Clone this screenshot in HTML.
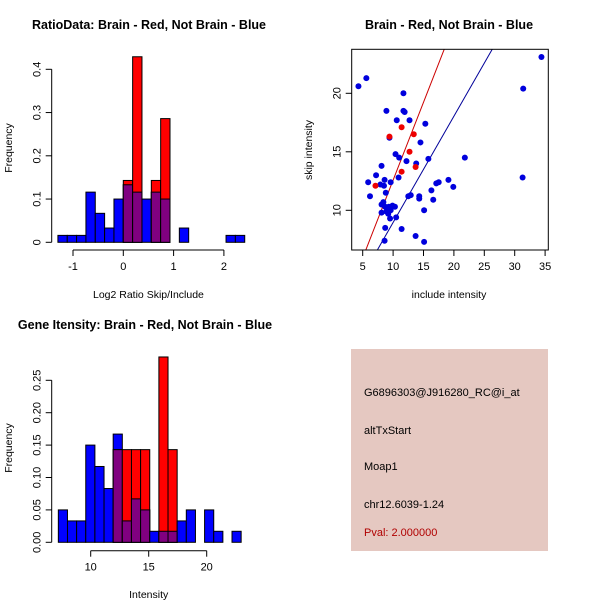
<!DOCTYPE html>
<html><head><meta charset="utf-8">
<style>
body{margin:0;background:#fff;}
svg{display:block;font-family:"Liberation Sans",sans-serif;}
</style></head>
<body>
<svg id="c" width="600" height="600" xmlns="http://www.w3.org/2000/svg">
<rect width="600" height="600" fill="#fff"/>
<text x="149" y="29" font-size="12.5" font-weight="bold" text-anchor="middle">RatioData: Brain - Red, Not Brain - Blue</text>
<text x="449" y="29" font-size="12.5" font-weight="bold" text-anchor="middle">Brain - Red, Not Brain - Blue</text>
<text x="145" y="329" font-size="12.5" font-weight="bold" text-anchor="middle">Gene Itensity: Brain - Red, Not Brain - Blue</text>
<g id="p1"></g>
<g id="p2"></g>
<g id="p3"></g>
<g>
<rect x="351" y="349" width="197" height="202" fill="#e5c8c1"/>
<text x="364" y="396" font-size="11">G6896303@J916280_RC@i_at</text>
<text x="364" y="434" font-size="11">altTxStart</text>
<text x="364" y="470" font-size="11">Moap1</text>
<text x="364" y="508" font-size="11">chr12.6039-1.24</text>
<text x="364" y="536" font-size="11" fill="#b00000">Pval: 2.000000</text>
</g>
</svg>
<script>
// Ratio histogram data
const ratioStart = -1.3, ratioWidth = 0.1857;
const ratioBlue = [0.016,0.016,0.016,0.116,0.067,0.033,0.1,0.133,0.116,0.1,0.116,0.1,0,0.033,0,0,0,0,0.016,0.016];
const ratioRed  = [0,0,0,0,0,0,0,0.143,0.429,0,0.143,0.286,0,0,0,0,0,0,0,0];
const ratioXTicks = [-1,0,1,2];
const ratioYTicks = [0,0.1,0.2,0.3,0.4];
// Intensity histogram data
const intStart = 7.21, intWidth = 0.788;
const intBlue = [0.05,0.033,0.033,0.15,0.117,0.083,0.167,0.033,0.067,0.05,0.017,0.017,0.017,0.033,0.05,0,0.05,0.017,0,0.017];
const intRed  = [0,0,0,0,0,0,0.143,0.143,0.143,0.143,0,0.286,0.143,0,0,0,0,0,0,0];
const intXTicks = [10,15,20];
const intYTicks = [0,0.05,0.10,0.15,0.20,0.25];
const intYLabels = ["0.00","0.05","0.10","0.15","0.20","0.25"];
// Scatter data
const blueX = [4.3,5.6,11.7,34.4,31.4,31.3,8.9,11.7,11.9,10.6,12.7,15.3,9.4,14.5,10.4,11.0,12.2,13.8,15.8,21.8,8.1,7.2,5.9,6.2,8.6,7.9,8.5,9.6,10.9,19.1,19.9,16.3,17.1,17.5,16.6,12.5,12.9,14.3,14.3,8.8,8.1,8.4,8.7,9.3,9.9,10.3,8.9,9.6,9.2,8.1,10.5,9.5,15.1,8.7,11.4,8.6,13.7,15.1];
const blueY = [20.6,21.3,20.0,23.1,20.4,12.8,18.5,18.5,18.4,17.7,17.7,17.4,16.2,15.8,14.8,14.5,14.2,14.0,14.4,14.5,13.8,13.0,12.4,11.2,12.6,12.2,12.1,12.4,12.8,12.6,12.0,11.7,12.3,12.4,10.9,11.2,11.3,11.2,11.0,11.5,10.5,10.7,10.3,10.3,10.4,10.3,9.9,10.0,9.7,9.8,9.4,9.3,10.0,8.5,8.4,7.4,7.8,7.3];
const redX = [7.1,11.4,13.4,12.7,11.4,13.7,9.4];
const redY = [12.1,17.1,16.5,15.0,13.3,13.7,16.3];
const redIntercept = -0.72, redSlope = 1.33;
const blueIntercept = -0.12, blueSlope = 0.908;
const scXTicks = [5,10,15,20,25,30,35];
const scYTicks = [10,15,20];

const NS = "http://www.w3.org/2000/svg";
function mk(parent, tag, attrs){ const e=document.createElementNS(NS,tag); for(const k in attrs) e.setAttribute(k,attrs[k]); parent.appendChild(e); return e; }

function hist(g, start, width, blue, red, sx, sy, xTicks, yTicks, yLabels, xAxisY, yAxisX, xlab, xlabY, ylabY){
  const n = blue.length;
  for(let i=0;i<n;i++){
    const x0=sx(start+i*width), x1=sx(start+(i+1)*width);
    const b=blue[i], r=red[i], m=Math.min(b,r);
    if(b>0){ const e=mk(g,'rect',{x:x0,y:sy(b),width:x1-x0,height:sy(0)-sy(b),fill:'#0000ff',stroke:'#000','stroke-width':1});
        }
    if(r>0){ const e=mk(g,'rect',{x:x0,y:sy(r),width:x1-x0,height:sy(0)-sy(r),fill:'#ff0000',stroke:'#000','stroke-width':1});
        }
    if(m>0){ const e=mk(g,'rect',{x:x0,y:sy(m),width:x1-x0,height:sy(0)-sy(m),fill:'#800080',stroke:'#000','stroke-width':1});
        }
  }
  mk(g,'line',{x1:yAxisX,x2:yAxisX,y1:sy(yTicks[0]),y2:sy(yTicks[yTicks.length-1]),stroke:'#000'});
  yTicks.forEach((t,i)=>{
    mk(g,'line',{x1:yAxisX-6,x2:yAxisX,y1:sy(t),y2:sy(t),stroke:'#000'});
    const tx=mk(g,'text',{x:0,y:0,'font-size':11,'text-anchor':'middle',transform:`translate(${yAxisX-11},${sy(t)}) rotate(-90)`});
    tx.textContent=yLabels[i];
     
  });
  mk(g,'line',{x1:sx(xTicks[0]),x2:sx(xTicks[xTicks.length-1]),y1:xAxisY,y2:xAxisY,stroke:'#000'});
  xTicks.forEach(t=>{
    mk(g,'line',{x1:sx(t),x2:sx(t),y1:xAxisY,y2:xAxisY+6,stroke:'#000'});
    const tx=mk(g,'text',{x:sx(t),y:xAxisY+20,'font-size':11,'text-anchor':'middle'});
    tx.textContent=String(t);
     
  });
  const xl=mk(g,'text',{x:(sx(xTicks[0])+sx(xTicks[xTicks.length-1]))/2,y:xlabY,'font-size':10.5,'text-anchor':'middle'});
  xl.textContent=xlab;
   
  const yl=mk(g,'text',{x:0,y:0,'font-size':10.5,'text-anchor':'middle',transform:`translate(12,${ylabY}) rotate(-90)`});
  yl.textContent='Frequency';
   
}

hist(document.getElementById('p1'), ratioStart, ratioWidth, ratioBlue, ratioRed,
  v=>123.3+v*50.3, v=>242.3-v*432.5, ratioXTicks, ratioYTicks, ratioYTicks.map(String), 250, 51.7,
  'Log2 Ratio Skip/Include', 298, 148);
hist(document.getElementById('p3'), intStart, intWidth, intBlue, intRed,
  v=>90.7+(v-10)*11.6, v=>542.3-v*648, intXTicks, intYTicks, intYLabels, 550.7, 51.7,
  'Intensity', 598, 448);

(function(){
  const g=document.getElementById('p2');
  const L=351.7,R=548.3,T=49.3,B=250;
  const sx=v=>362.7+(v-5)*6.08, sy=v=>210.3-(v-10)*11.7;
  const cp=mk(g,'clipPath',{id:'clipSc'}); mk(cp,'rect',{x:L,y:T,width:R-L,height:B-T});
  const lines=[[redIntercept,redSlope,'#cc0000','red-regression-line'],[blueIntercept,blueSlope,'#000099','blue-regression-line']];
  lines.forEach(([a,b,c,nm])=>{
    const x0=0,x1=40;
    const e=mk(g,'line',{x1:sx(x0),y1:sy(a+b*x0),x2:sx(x1),y2:sy(a+b*x1),stroke:c,'stroke-width':1,'clip-path':'url(#clipSc)'});
     
  });
  blueX.forEach((x,i)=>{ const e=mk(g,'circle',{cx:sx(x),cy:sy(blueY[i]),r:3,fill:'#0000dd'});
      });
  redX.forEach((x,i)=>{ const e=mk(g,'circle',{cx:sx(x),cy:sy(redY[i]),r:3,fill:'#ee0000'});
      });
  mk(g,'rect',{x:L,y:T,width:R-L,height:B-T,fill:'none',stroke:'#000'});
  scXTicks.forEach(t=>{
    mk(g,'line',{x1:sx(t),x2:sx(t),y1:B,y2:B+6,stroke:'#000'});
    const tx=mk(g,'text',{x:sx(t),y:B+20,'font-size':11,'text-anchor':'middle'}); tx.textContent=String(t);
     
  });
  scYTicks.forEach(t=>{
    mk(g,'line',{x1:L-6,x2:L,y1:sy(t),y2:sy(t),stroke:'#000'});
    const tx=mk(g,'text',{x:0,y:0,'font-size':11,'text-anchor':'middle',transform:`translate(${L-11},${sy(t)}) rotate(-90)`}); tx.textContent=String(t);
     
  });
  const xl=mk(g,'text',{x:449,y:298,'font-size':10.5,'text-anchor':'middle'}); xl.textContent='include intensity';
   
  const yl=mk(g,'text',{x:0,y:0,'font-size':10.5,'text-anchor':'middle',transform:'translate(312,150) rotate(-90)'}); yl.textContent='skip intensity';
   
})();
</script>
</body></html>
